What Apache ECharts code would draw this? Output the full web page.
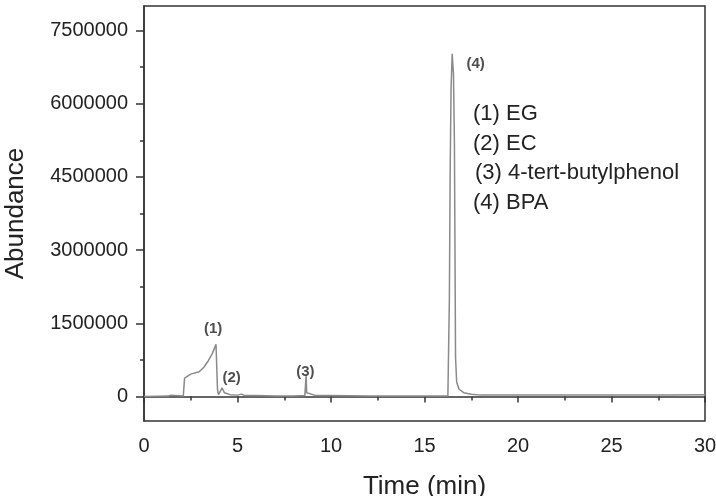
<!DOCTYPE html>
<html>
<head>
<meta charset="utf-8">
<script src="https://cdn.jsdelivr.net/npm/echarts@6/dist/echarts.min.js"></script>
<style>
html,body{margin:0;padding:0;background:#fff;}
#chart{width:716px;height:496px;}
</style>
</head>
<body>
<div id="chart"></div>
<script>
// Retention time (min)
var timeMin = [0, 1.3, 1.45, 1.55, 2.1, 2.17, 2.2, 2.5, 2.95, 3.2, 3.45, 3.65, 3.85, 3.93, 3.98, 4.1, 4.17, 4.3, 4.6, 5.0, 5.2, 5.4, 6, 7, 8, 8.6, 8.67, 8.7, 8.8, 9.2, 10, 12, 14, 16.25, 16.3, 16.33, 16.37, 16.42, 16.48, 16.55, 16.6, 16.63, 16.66, 16.72, 16.85, 17.1, 17.5, 18, 19, 20, 22, 25, 28, 30];
// Abundance
var abundance = [0, 10000, 30000, 10000, 10000, 380000, 410000, 460000, 510000, 600000, 740000, 880000, 1070000, 150000, 40000, 120000, 180000, 80000, 40000, 30000, 50000, 20000, 20000, 10000, 10000, 20000, 440000, 80000, 40000, 20000, 20000, 10000, 10000, 10000, 50000, 2000000, 4500000, 6300000, 7020000, 6600000, 5200000, 3000000, 800000, 300000, 150000, 80000, 50000, 30000, 30000, 30000, 30000, 30000, 30000, 40000];

var xTickValues = [0, 5, 10, 15, 20, 25, 30];
var yTickValues = [0, 1500000, 3000000, 4500000, 6000000, 7500000];
var yMinorTickValues = [750000, 2250000, 3750000, 5250000, 6750000];

var peakLabels = ['(1)', '(2)', '(3)', '(4)'];
var peakLabelX = [3.7, 4.69, 8.63, 17.73];
var peakLabelY = [1390000, 390000, 500000, 6820000];

var compoundNames = ['(1) EG', '(2) EC', '(3) 4-tert-butylphenol', '(4) BPA'];

var FONT = '"Liberation Sans", Arial, Helvetica, sans-serif';

var lineData = timeMin.map(function (t, i) { return [t, abundance[i]]; });
var labelData = peakLabels.map(function (l, i) { return { value: [peakLabelX[i], peakLabelY[i]], name: l }; });

var legendOffsets = [0, 0, 2, 0];
var graphics = compoundNames.map(function (n, i) {
  return {
    type: 'text',
    left: 473 + legendOffsets[i],
    top: 103 + i * 29.7,
    style: { text: n, font: '22px ' + FONT, fill: '#222' }
  };
});

var chart = echarts.init(document.getElementById('chart'), null, { renderer: 'canvas' });
chart.setOption({
  animation: false,
  backgroundColor: '#fff',
  grid: { left: 144, right: 11, top: 6, bottom: 75, show: true, borderColor: '#333', borderWidth: 1.5, backgroundColor: 'transparent',
    containLabel: false, outerBoundsMode: 'none' },
  xAxis: {
    type: 'value', min: 0, max: 30, interval: 5,
    name: 'Time (min)', nameLocation: 'middle', nameGap: 53,
    nameTextStyle: { fontFamily: FONT, fontSize: 26, color: '#222' },
    axisLine: { show: true, lineStyle: { color: '#333', width: 1.5 } },
    axisTick: { show: true, length: 6, lineStyle: { color: '#333', width: 1.5 }, customValues: xTickValues },
    minorTick: { show: true, splitNumber: 2, length: 4, lineStyle: { color: '#333', width: 1.5 } },
    axisLabel: { fontFamily: FONT, fontSize: 20, color: '#222', margin: 15, customValues: xTickValues,
      formatter: function (v) { return String(v); } },
    splitLine: { show: false }
  },
  yAxis: [{
    type: 'value', min: -500000, max: 8000000, position: 'left',
    name: 'Abundance', nameLocation: 'middle', nameGap: 115,
    nameTextStyle: { fontFamily: FONT, fontSize: 26, color: '#222' },
    axisLine: { show: true, lineStyle: { color: '#333', width: 1.5 } },
    axisTick: { show: true, length: 8, lineStyle: { color: '#333', width: 1.5 }, customValues: yTickValues },
    axisLabel: { fontFamily: FONT, fontSize: 20, color: '#222', margin: 16, customValues: yTickValues,
      formatter: function (v) { return String(v); } },
    splitLine: { show: false }
  }, {
    type: 'value', min: -500000, max: 8000000, position: 'left', offset: 0,
    axisLine: { show: false },
    axisTick: { show: true, length: 4, lineStyle: { color: '#333', width: 1.5 }, customValues: yMinorTickValues },
    axisLabel: { show: false },
    splitLine: { show: false }
  }],
  series: [{
    type: 'line',
    data: lineData,
    showSymbol: false,
    symbol: 'none',
    clip: false,
    lineStyle: { color: '#8a8a8a', width: 1.5 },
    z: 3
  }, {
    type: 'scatter',
    data: labelData,
    symbolSize: 2,
    itemStyle: { color: 'rgba(0,0,0,0)' },
    label: {
      show: true, position: 'inside',
      formatter: function (p) { return p.name; },
      fontFamily: FONT, fontSize: 15, fontWeight: 'bold', color: '#222'
    },
    z: 4
  }],
  graphic: graphics
});
</script>
</body>
</html>
